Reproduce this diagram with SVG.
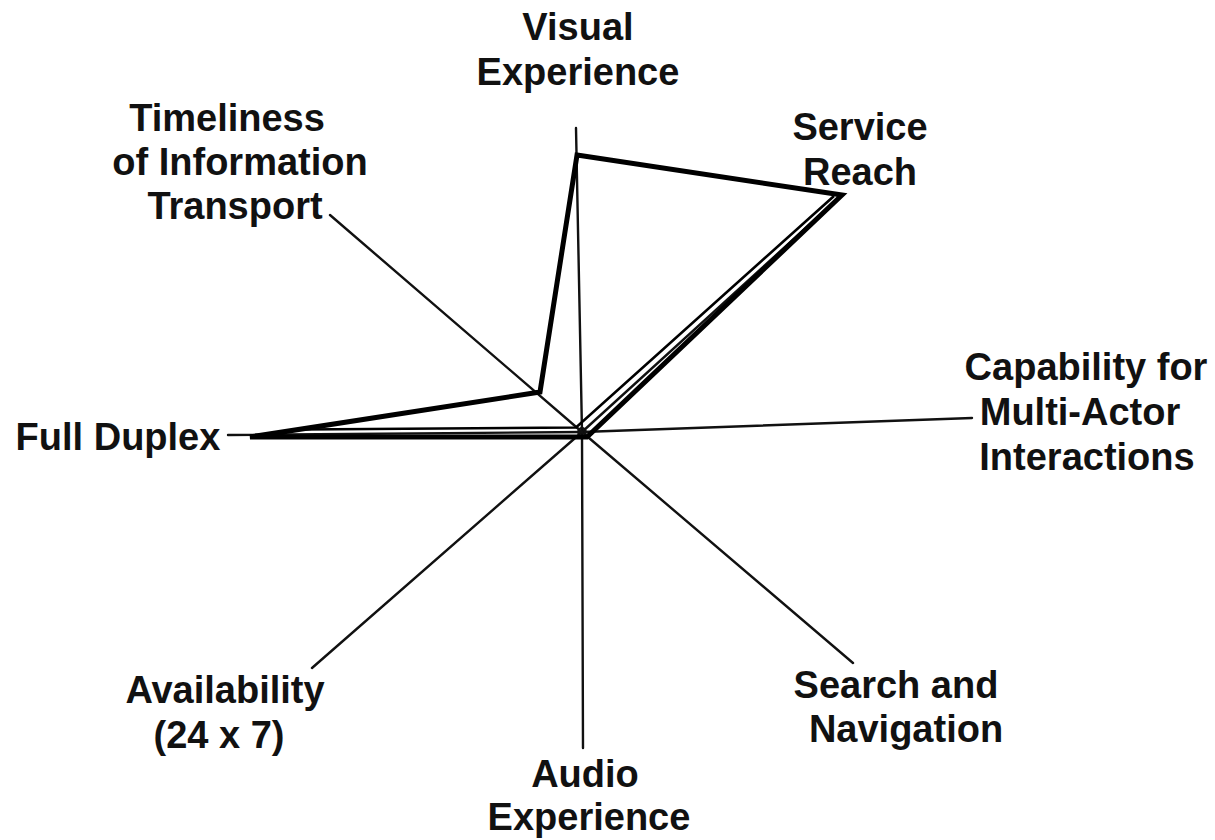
<svg xmlns="http://www.w3.org/2000/svg" width="1215" height="840" viewBox="0 0 1215 840">
  <style>
    .axis { stroke: #111; stroke-width: 2.4; fill: none; stroke-linecap: round; }
    .profile { stroke: #000; stroke-width: 5; fill: none; stroke-linejoin: miter; }
    .profile-thin { stroke: #000; stroke-width: 2.6; fill: none; }
    .label { font-family: "Liberation Sans", Arial, sans-serif; font-weight: bold; font-size: 38px; fill: #111; text-anchor: middle; }
  </style>
  <rect width="1215" height="840" fill="#fff"/>

  <!-- radial axes from the centre point -->
  <g id="connectors">
    <line class="axis" x1="582" y1="432" x2="576" y2="128"/>
    <line class="axis" x1="582" y1="432" x2="842" y2="195"/>
    <line class="axis" x1="582" y1="432" x2="972" y2="418"/>
    <line class="axis" x1="582" y1="432" x2="853" y2="663"/>
    <line class="axis" x1="582" y1="432" x2="583" y2="748"/>
    <line class="axis" x1="582" y1="432" x2="312" y2="668"/>
    <line class="axis" x1="582" y1="432" x2="228" y2="435"/>
    <line class="axis" x1="582" y1="432" x2="330" y2="215"/>
    <circle cx="582" cy="432" r="4" fill="none" stroke="#111" stroke-width="1.8"/>

    <!-- rating profiles -->
    <path class="profile" d="M577,155 L842,195 L587,437 L250,437 L540,392 Z"/>
    <path class="profile-thin" d="M300,429.5 L576,427.5 L834,196"/>
  </g>

  <g id="node-visual"><text class="label" x="578" y="40">Visual</text><text class="label" x="578" y="85">Experience</text></g>
  <g id="node-service"><text class="label" x="860" y="140">Service</text><text class="label" x="860" y="185">Reach</text></g>
  <g id="node-timeliness"><text class="label" x="227" y="131">Timeliness</text><text class="label" x="240" y="175">of Information</text><text class="label" x="235" y="219">Transport</text></g>
  <g id="node-capability"><text class="label" x="1086" y="380">Capability for</text><text class="label" x="1080" y="425">Multi-Actor</text><text class="label" x="1087" y="470">Interactions</text></g>
  <g id="node-duplex"><text class="label" x="118" y="450">Full Duplex</text></g>
  <g id="node-availability"><text class="label" x="225" y="703">Availability</text><text class="label" x="219" y="748">(24 x 7)</text></g>
  <g id="node-search"><text class="label" x="896" y="698">Search and</text><text class="label" x="906" y="742">Navigation</text></g>
  <g id="node-audio"><text class="label" x="585" y="787">Audio</text><text class="label" x="589" y="830">Experience</text></g>
</svg>
